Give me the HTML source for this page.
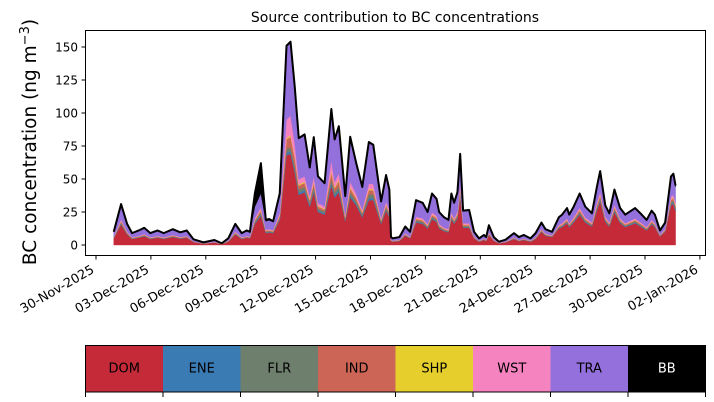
<!DOCTYPE html>
<html><head><meta charset="utf-8"><style>
html,body{margin:0;padding:0;background:#fff;}
svg{display:block;font-family:"DejaVu Sans","Liberation Sans",sans-serif;}
</style></head><body>
<svg id="chart" width="714" height="402" viewBox="0 0 714 402">
<text x="395" y="22" font-size="14" text-anchor="middle">Source contribution to BC concentrations</text>
<text transform="translate(36,142) rotate(-90)" font-size="18.5" text-anchor="middle">BC concentration (ng m<tspan font-size="13" dy="-7">−3</tspan><tspan dy="7">)</tspan></text>
<g id="plot"></g>
<g id="yaxis"></g>
<g id="xaxis"></g>
<rect x="85.5" y="30.5" width="620" height="225" fill="none" stroke="#000" stroke-width="1"/>
<g id="legend"></g>
</svg>
<script>
const times=[0.97,1.37,1.70,1.97,2.33,2.64,2.97,3.37,3.70,4.20,4.60,4.96,5.33,5.87,6.47,6.87,7.23,7.61,7.96,8.23,8.41,8.68,9.01,9.28,9.46,9.68,10.04,10.41,10.63,10.86,11.08,11.40,11.68,11.90,12.13,12.49,12.86,13.04,13.27,13.62,13.89,14.22,14.55,14.91,15.15,15.58,15.85,16.03,16.12,16.21,16.58,16.90,17.16,17.49,17.85,18.12,18.36,18.61,18.75,19.02,19.26,19.42,19.57,19.75,19.90,20.06,20.39,20.66,20.93,21.20,21.32,21.47,21.74,22.02,22.38,22.84,23.11,23.38,23.74,24.02,24.34,24.56,24.92,25.29,25.47,25.74,25.86,26.10,26.43,26.74,27.10,27.37,27.55,27.83,28.05,28.33,28.64,28.92,29.46,29.82,30.09,30.36,30.54,30.82,31.10,31.42,31.55,31.67];
const dom=[5,15.5,8,4.5,5.5,6.5,4.5,5.5,4.5,6, 4.8,5.5,2.2,1,1.9,0.7,2.5,8,4.5,5.5, 5,16,22,9,9.5,9,19,68,69,55, 38,40,29,40,25,23,45,36,40,18, 36,30,21,34,34,16,26,21,3,2.5, 3,7,5,17,16,12.5,19.5,17.5,12.5,10.5, 9.5,19.5,16,20,37,13,13,5,2.5,3.8, 3,7.5,3,1.3,2,4.5,3,3.8,2.5,4.5, 10,7,6,12.5,13.5,16.5,13.5,17,23,17, 14,26,33,17.5,14,25,16.5,13.5,16.5,13.5, 11,15.5,13.5,6.5,10,30,31,26];
const ene=[.2,.6,.3,.2,.2,.3,.2,.2,.2,.2, .2,.2,.1,0,.1,0,.1,.3,.2,.2, .2,.7,1,.4,.4,.4,.8,2,2,2, 1.6,1.7,1.2,1.6,1,1,2,1.6,1.8,.7, 1.6,1.2,.9,1.6,1.5,.7,1,.8,.1,.1, .1,.3,.2,.7,.6,.5,.8,.7,.5,.4, .4,.8,.6,.8,1.4,.5,.5,.2,.1,.2, .1,.3,.1,0,.1,.2,.1,.2,.1,.2, .3,.2,.2,.4,.5,.6,.5,.6,.8,.6, .5,.9,1.1,.6,.5,.8,.6,.5,.6,.5, .4,.5,.5,.2,.3,1,1.1,.9];
const flr=[.3,.9,.5,.3,.3,.4,.3,.3,.3,.4, .3,.3,.1,.1,.1,0,.2,.5,.3,.3, .3,1,1.5,.6,.6,.5,1.2,3,3,3, 2.4,2.5,1.8,2.5,1.6,1.4,3,2.4,2.7,1.1, 2.5,1.9,1.3,3,3,1,1.6,1.3,.2,.2, .2,.4,.3,1,1,.8,1.2,1.1,.8,.6, .6,1.2,1,1.2,2,.8,.8,.3,.2,.2, .2,.5,.2,.1,.1,.3,.2,.2,.2,.3, .5,.4,.3,.6,.7,.8,.7,.9,1.2,.9, .7,1.3,1.7,.9,.7,1.3,.8,.7,.8,.7, .6,.8,.7,.3,.5,1.6,1.6,1.4];
const ind=[.3,.9,.5,.3,.3,.4,.3,.3,.3,.4, .3,.3,.1,.1,.1,0,.2,.5,.3,.3, .3,1,1.5,.6,.6,.5,1.2,7,8,6, 3,3,2,3,1.6,1.4,5,3,4,1.1, 3,2,1.3,3,3,1,1.6,1.3,.2,.2, .2,.4,.3,1,1,.8,1.2,1.1,.8,.6, .6,1.2,1,1.2,2,.8,.8,.3,.2,.2, .2,.5,.2,.1,.1,.3,.2,.2,.2,.3, .5,.4,.3,.6,.7,.8,.7,.9,1.2,.9, .7,1.3,1.7,.9,.7,1.3,.8,.7,.8,.7, .6,.8,.7,.3,.5,1.6,1.6,1.4];
const shp=[.1,.3,.2,.1,.1,.1,.1,.1,.1,.1, .1,.1,0,0,0,0,.1,.2,.1,.1, .1,.3,.5,.2,.2,.2,.4,1,1,1, .8,.8,.6,.8,.5,.5,1,.8,.9,.4, .8,.6,.4,.8,.8,.3,.5,.4,.1,.1, .1,.1,.1,.3,.3,.3,.4,.4,.3,.2, .2,.4,.3,.4,.7,.3,.3,.1,.1,.1, .1,.2,.1,0,0,.1,.1,.1,.1,.1, .2,.1,.1,.2,.2,.3,.2,.3,.4,.3, .2,.4,.6,.3,.2,.4,.3,.2,.3,.2, .2,.3,.2,.1,.2,.5,.5,.5];
const wst=[.4,1.2,.6,.4,.4,.5,.4,.4,.4,.5, .4,.4,.2,.1,.2,.1,.2,.6,.4,.4, .4,1.5,2,.8,.8,.7,1.6,14,15,10, 4,4,2.5,4,2,2,8,4,5,1.5, 4,3,1.8,4,4,1.3,2.1,1.7,.2,.2, .2,.6,.4,1.4,1.3,1,1.6,1.4,1,.8, .8,1.6,1.3,1.6,3,1,1.1,.4,.2,.3, .2,.6,.2,.1,.2,.4,.2,.3,.2,.4, .7,.5,.4,.8,.9,1.1,.9,1.2,1.6,1.2, 1,1.8,2.2,1.2,1,1.7,1.1,.9,1.1,.9, .8,1,.9,.4,.7,2.1,2.2,1.8];
const tra=[3.5,11,5.6,3,4,4.5,3,4,3,4.2, 3.3,4,1.5,.7,1.3,.5,1.7,5.6,3,4, 3.5,8.5,10.5,6.4,6.6,6.1,14,55,55,42, 30.4,31,21,29,19.8,17,38,31.4,34.7,13.8, 33.3,22.7,16.9,30.8,28.9,12.4,19.7,15.1,2.1,1.6, 2.1,4.9,3.5,11.9,11.2,8.6,13.5,12.1,8.6,7.5, 6.5,13.5,11.2,14,21.5,9.1,9.5,3.5,1.6,2.6, 2.1,5.1,2.1,.8,1.4,3,2.1,2.6,1.6,3, 4.5,3.2,2.5,5.5,6,7.3,6,7.5,10,7.5, 6.4,11.4,14.6,8,6.4,10.7,7.3,6,7.3,6, 5,6.6,6,3,4.5,14.2,14.9,12.1];
const bb=[.2,.6,.3,.2,.2,.3,.2,.2,.2,.2, .2,.2,.1,0,.1,0,.1,.3,.2,.2, .2,10,23,1,1,.6,.8,1,1,1, .8,.8,.6,.8,.5,.5,1,.8,.9,.4, .8,.6,.4,.8,.8,.3,.5,.4,.1,.1, .1,.3,.2,.7,.6,.5,.8,.7,.5,.4, .4,.8,.6,.8,1.4,.5,.5,.2,.1,.2, .1,.3,.1,.1,.1,.2,.1,.2,.1,.2, .3,.2,.2,.4,.5,.6,.5,.6,.8,.6, .5,.9,1.1,.6,.5,.8,.6,.5,.6,.5, .4,.5,.5,.2,.3,1,1.1,.9];
const sourceNames=["DOM","ENE","FLR","IND","SHP","WST","TRA","BB"];
const yTicks=[0,25,50,75,100,125,150];
const xTickDays=[0,3,6,9,12,15,18,21,24,27,30,33];
const xTickLabels=["30-Nov-2025","03-Dec-2025","06-Dec-2025","09-Dec-2025","12-Dec-2025","15-Dec-2025","18-Dec-2025","21-Dec-2025","24-Dec-2025","27-Dec-2025","30-Dec-2025","02-Jan-2026"];

const colors=["#c52a38","#3a7bb4","#6e7f6e","#cc6555","#e6cf2d","#f483bf","#9370db","#000000"];
const series=[dom,ene,flr,ind,shp,wst,tra,bb];
const NS="http://www.w3.org/2000/svg";
function xs(d){return 96+18.3*d;}
function ys(v){return 245-1.32*v;}
function mk(tag,attrs,parent){const e=document.createElementNS(NS,tag);for(const k in attrs)e.setAttribute(k,attrs[k]);parent.appendChild(e);return e;}

const plot=document.getElementById('plot');
const n=times.length;
let base=new Array(n).fill(0);
series.forEach((s,si)=>{
  const top=base.map((b,i)=>b+s[i]);
  let d="M"+times.map((t,i)=>xs(t).toFixed(2)+","+ys(top[i]).toFixed(2)).join("L");
  for(let i=n-1;i>=0;i--)d+="L"+xs(times[i]).toFixed(2)+","+ys(base[i]).toFixed(2);
  d+="Z";
  const p=mk('path',{d:d,fill:colors[si],stroke:colors[si],'stroke-width':0.4},plot);
  
  
  base=top;
});
const tl=mk('path',{d:"M"+times.map((t,i)=>xs(t).toFixed(2)+","+ys(base[i]).toFixed(2)).join("L"),fill:"none",stroke:"#000",'stroke-width':2,'stroke-linejoin':'round'},plot);



const ya=document.getElementById('yaxis');
yTicks.forEach(v=>{
  const y=ys(v);
  const l=mk('line',{x1:81.5,x2:85.5,y1:y,y2:y,stroke:"#000"},ya);
  
  
  const t=mk('text',{x:78,y:y+4.5,'font-size':12,'text-anchor':'end'},ya);
  t.textContent=v;
  
  
});
const xa=document.getElementById('xaxis');
xTickDays.forEach((d,i)=>{
  const x=xs(d);
  const l=mk('line',{x1:x,x2:x,y1:255.5,y2:259.5,stroke:"#000"},xa);
  
  
  const t=mk('text',{transform:`translate(${x-1},${272}) rotate(-30)`,'font-size':12.8,'text-anchor':'end'},xa);
  t.textContent=xTickLabels[i];
  
  
});

const lg=document.getElementById('legend');
const cw=620/8;
sourceNames.forEach((nm,i)=>{
  const x=85.5+i*cw;
  const r=mk('rect',{x:x,y:345,width:cw,height:47,fill:colors[i]},lg);
  
  
  const t=mk('text',{x:x+cw/2,y:372.5,'font-size':13,'text-anchor':'middle',fill:nm==="BB"?"#fff":"#000"},lg);
  t.textContent=nm;
  
  
});
const fr=mk('rect',{x:85.5,y:345.5,width:620,height:46.5,fill:"none",stroke:"#000"},lg);


for(let i=0;i<=8;i++){
  const x=85.5+i*cw;
  const l=mk('line',{x1:x,x2:x,y1:392,y2:397,stroke:"#000"},lg);
  
  
}
</script>
</body></html>
